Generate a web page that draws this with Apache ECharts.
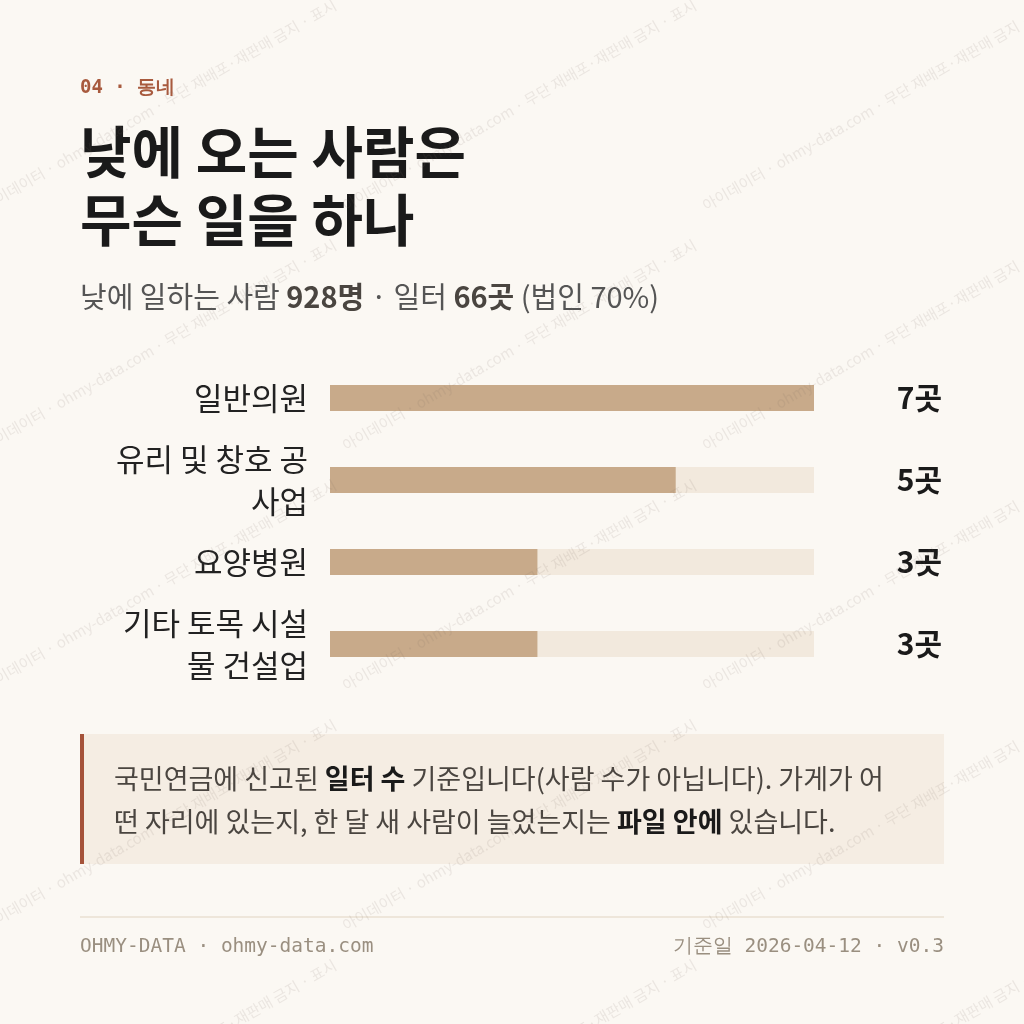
<!DOCTYPE html>
<html><head><meta charset="utf-8">
<script src="https://cdn.jsdelivr.net/npm/echarts@6/dist/echarts.min.js"></script>
<style>html,body{margin:0;background:#fbf8f3}#c{width:1024px;height:1024px}</style>
</head><body><div id="c"></div>
<script>
const categories = ['일반의원', '유리 및 창호 공\n사업', '요양병원', '기타 토목 시설\n물 건설업'];
const counts = [7, 5, 3, 3];
const maxCount = 7;

const KR = '"Noto Sans CJK KR", "Noto Sans", sans-serif';
const MONO = '"DejaVu Sans Mono", monospace';
const chart = echarts.init(document.getElementById('c'));

const wmText = '아이데이터 · ohmy-data.com · 무단 재배포·재판매 금지 · 표시';
const watermarks = [];
for (let r = -2; r < 5; r++) {
  for (let c = -1; c < 3; c++) {
    watermarks.push({
      type: 'text', x: c * 360 - 20, y: r * 240 + 200, rotation: Math.PI / 6, z: 100,
      style: { text: wmText, fill: 'rgba(120,110,100,0.12)', font: '15px ' + KR }
    });
  }
}

chart.setOption({
  backgroundColor: '#fbf8f3',
  grid: { left: 330, right: 210, top: 357, height: 328 },
  xAxis: { type: 'value', min: 0, max: maxCount, show: false },
  yAxis: [{
    type: 'category', data: categories, inverse: true,
    axisLine: { show: false }, axisTick: { show: false },
    axisLabel: { margin: 22, fontSize: 31, color: '#222', lineHeight: 42, fontFamily: KR, align: 'right' }
  }, {
    type: 'category', data: categories, inverse: true, position: 'right',
    axisLine: { show: false }, axisTick: { show: false },
    axisLabel: {
      margin: 128, align: 'right', fontSize: 30, fontWeight: 'bold', color: '#1a1a1a', fontFamily: KR,
      formatter: (v, i) => counts[i] + '곳'
    }
  }],
  series: [{
    type: 'bar', data: counts, barWidth: 26,
    itemStyle: { color: '#c8aa8a' },
    showBackground: true, backgroundStyle: { color: '#f2e9dd' },
    silent: true
  }],
  graphic: [
    { type: 'text', left: 80, top: 79, style: { text: '04 · 동네', fill: '#a85a3e', font: 'bold 19px ' + MONO } },
    { type: 'text', left: 80, top: 118, style: { text: '낮에 오는 사람은\n무슨 일을 하나', fill: '#1a1a1a', font: 'bold 56px ' + KR, lineHeight: 68 } },
    { type: 'text', left: 80, top: 282, style: {
      text: '낮에 일하는 사람 {b|928명} · 일터 {b|66곳} (법인 70%)',
      fill: '#555', font: '29px ' + KR,
      rich: { b: { fontWeight: 'bold', fontSize: 29, fill: '#4a4540', fontFamily: KR } }
    } },
    { type: 'rect', shape: { x: 80, y: 734, width: 864, height: 130 }, style: { fill: '#f5ede3' } },
    { type: 'rect', shape: { x: 80, y: 734, width: 4, height: 130 }, style: { fill: '#a5533a' } },
    { type: 'text', left: 114, top: 757, style: {
      text: '국민연금에 신고된 {b|일터 수} 기준입니다(사람 수가 아닙니다). 가게가 어\n떤 자리에 있는지, 한 달 새 사람이 늘었는지는 {b|파일 안에} 있습니다.',
      fill: '#4a4540', font: '27px ' + KR, lineHeight: 43,
      rich: { b: { fontWeight: 'bold', fontSize: 27, fill: '#1a1a1a', fontFamily: KR, lineHeight: 43 } }
    } },
    { type: 'rect', shape: { x: 80, y: 916, width: 864, height: 2 }, style: { fill: '#eee6da' } },
    { type: 'text', left: 80, top: 937, style: { text: 'OHMY-DATA · ohmy-data.com', fill: '#9a8f80', font: '19.5px ' + MONO } },
    { type: 'text', right: 80, top: 937, style: { text: '기준일 2026-04-12 · v0.3', fill: '#9a8f80', font: '19.5px ' + MONO } },
    ...watermarks
  ]
});
</script></body></html>
